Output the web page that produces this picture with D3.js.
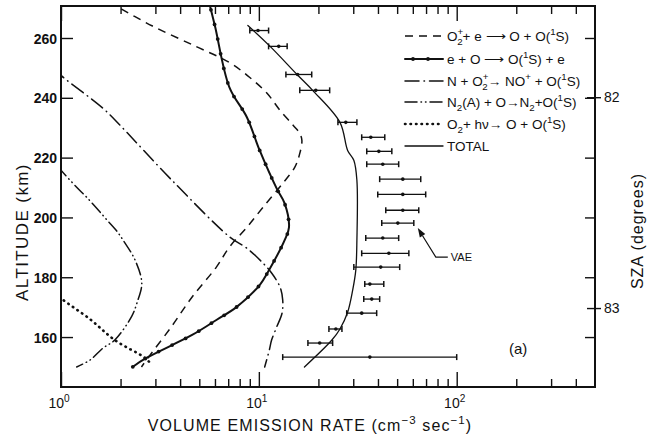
<!DOCTYPE html>
<html>
<head>
<meta charset="utf-8">
<script src="https://cdn.jsdelivr.net/npm/d3@7"></script>
<style>
  body { margin: 0; background: #fff; }
  svg { display: block; }
  text { font-family: "Liberation Sans", Arial, sans-serif; fill: #111; }
</style>
</head>
<body>
<svg id="chart" width="648" height="439"></svg>
<script>
// ---- Volume emission rate profiles of O(1S) production (cm^-3 s^-1) vs altitude (km)

// O2+ + e -> O + O(1S)   (dissociative recombination)
const dissAlt  = [272, 264, 257.2, 251.8, 246.8, 241.5, 235.8, 230.8, 228.1, 225.8, 221.4, 216.8, 211.4, 203.4, 196.7, 190.1, 183.4, 173.4, 163.3, 153, 150];
const dissRate = [1.75, 2.9, 4.8, 7.1, 9.0, 11.0, 12.8, 14.9, 16.1, 16.5, 16.1, 15.2, 13.2, 10.5, 8.7, 7.1, 6.1, 4.6, 3.6, 2.75, 2.55];

// e + O -> O(1S) + e   (electron impact)
const elecAlt  = [272, 264, 243.5, 233.5, 222.4, 209.7, 204.7, 196.7, 192.4, 181.7, 177.4, 170, 165.7, 160.7, 153, 150];
const elecRate = [5.6, 6.0, 7.1, 8.7, 10.1, 12.3, 13.5, 14.2, 13.5, 11.1, 10.1, 7.7, 6.1, 4.6, 2.7, 2.3];

// N + O2+ -> NO+ + O(1S)
const nAlt  = [250, 247.5, 236.5, 230.8, 212.4, 193.4, 189.7, 184.7, 181.4, 176.7, 172.4, 168, 163.3, 159, 155.7, 150];
const nRate = [0.92, 1.0, 1.63, 1.99, 3.64, 7.14, 8.7, 10.5, 11.6, 12.8, 13.2, 13.1, 12.3, 11.6, 11.3, 10.7];

// N2(A) + O -> N2 + O(1S)
const n2aAlt  = [217, 215.8, 210.1, 206.7, 199.1, 195.7, 192.4, 185.7, 178, 171.4, 167, 159, 156.3, 152.3, 150];
const n2aRate = [0.97, 1.0, 1.2, 1.35, 1.71, 1.9, 2.06, 2.37, 2.56, 2.42, 2.28, 1.87, 1.63, 1.4, 1.2];

// O2 + hv -> O + O(1S)
const photAlt  = [176, 173, 166, 159, 153, 151];
const photRate = [0.9, 1.0, 1.4, 1.87, 2.66, 2.85];

// Sum of all sources
const totalAlt  = [264.2, 257.2, 247.8, 242.5, 231.8, 222.4, 219.1, 212.4, 192.4, 182.4, 175.7, 168.3, 162.7, 159, 150];
const totalRate = [8.8, 11.4, 15.6, 18.7, 25.7, 28.1, 30.2, 31.3, 31.3, 30.9, 29.8, 28.1, 25.7, 23.4, 17.0];

// Measured volume emission rates (VAE) with their ranges
const vaeAlt  = [262.5, 257.2, 247.8, 242.5, 231.8, 226.8, 222.1, 217.8, 212.8, 207.7, 202.4, 198.1, 193.1, 188.0, 183.4, 177.7, 172.7, 168.0, 162.7, 158.0, 153.3];
const vaeRate = [9.9, 12.6, 15.7, 19.4, 27.5, 36.8, 40.4, 42.3, 53.4, 53.4, 53.4, 50.4, 42.3, 45.4, 41.3, 36.4, 37.2, 33.1, 24.5, 20.3, 36.4];
const vaeLow  = [9.0, 11.2, 13.7, 16.1, 25.1, 33.1, 35.1, 35.1, 40.8, 39.9, 43.8, 41.8, 34.7, 33.1, 30.2, 34.3, 33.9, 27.8, 22.6, 17.7, 13.2];
const vaeHigh = [11.2, 13.9, 18.5, 22.8, 31.3, 43.3, 47.0, 50.9, 65.8, 69.7, 64.3, 60.7, 50.9, 57.3, 51.5, 42.8, 40.8, 39.4, 26.3, 23.6, 100];
const vaeArrowIndex = 11;

// Axis ticks
const altTicks   = [160, 180, 200, 220, 240, 260];
const rateMajor  = [1, 10, 100];
const rateMinor  = [2, 3, 4, 5, 6, 7, 8, 9, 20, 30, 40, 50, 60, 70, 80, 90, 200, 300, 400];
const szaLabels  = [82, 83];
const szaAlt     = [240.2, 169.7];

// ---- layout
const W = 648, H = 439;
const mLeft = 61, mRight = 595, mTop = 6, mBottom = 387;

const svg = d3.select("#chart");
const x = d3.scaleLog().domain([1, 500]).range([mLeft, mRight]);
const y = d3.scaleLinear().domain([143.3, 270.7]).range([mBottom, mTop]);

svg.append("defs").append("clipPath").attr("id", "plotClip")
  .append("rect").attr("x", mLeft).attr("y", mTop)
  .attr("width", mRight - mLeft).attr("height", mBottom - mTop);

// rich text helper: parts = [text, kind, dx]
function rich(sel, parts, size) {
  let shift = 0;
  parts.forEach(p => {
    const [s, k, dx] = p;
    const target = k === "sup" ? -0.42 * size : k === "sub" ? 0.3 * size : 0;
    const ts = sel.append("tspan").attr("dy", target - shift).text(s);
    if (k === "sup" || k === "sub") ts.attr("font-size", size * 0.72);
    if (dx) ts.attr("dx", dx);
    shift = target;
  });
  if (shift !== 0) sel.append("tspan").attr("dy", -shift).text("");
}

// ---- axes
const axisStyle = g => {
  g.select(".domain").remove();
  g.selectAll(".tick line").attr("stroke", "#111").attr("stroke-width", 1.4);
};

// bottom: major + minor ticks pointing inward
svg.append("g").attr("transform", `translate(0,${mBottom})`)
  .call(d3.axisBottom(x).tickValues(rateMajor).tickSize(-15).tickFormat(""))
  .call(axisStyle);
svg.append("g").attr("transform", `translate(0,${mBottom})`)
  .call(d3.axisBottom(x).tickValues(rateMinor).tickSize(-8).tickFormat(""))
  .call(axisStyle);
// top
svg.append("g").attr("transform", `translate(0,${mTop})`)
  .call(d3.axisTop(x).tickValues(rateMajor).tickSize(-15).tickFormat(""))
  .call(axisStyle);
svg.append("g").attr("transform", `translate(0,${mTop})`)
  .call(d3.axisTop(x).tickValues(rateMinor).tickSize(-8).tickFormat(""))
  .call(axisStyle);

// x tick labels 10^n
rateMajor.forEach(v => {
  const t = svg.append("text")
    .attr("x", x(v) - 2).attr("y", 408)
    .attr("text-anchor", "middle")
    .attr("font-size", 14);
  rich(t, [["10"], [String(Math.round(Math.log10(v))), "sup"]], 14);
});

// left altitude axis
svg.append("g").attr("transform", `translate(${mLeft},0)`)
  .call(d3.axisLeft(y).tickValues(altTicks).tickSize(-12).tickPadding(4))
  .call(axisStyle)
  .call(g => g.selectAll(".tick text").attr("font-size", 14).attr("font-weight", "bold").attr("fill", "#111").attr("dy", "0.36em"));

// right side: inner ticks at altitude positions
svg.append("g").attr("transform", `translate(${mRight},0)`)
  .call(d3.axisRight(y).tickValues(altTicks).tickSize(-10).tickFormat(""))
  .call(axisStyle);

// right SZA ticks
svg.append("g").attr("transform", `translate(${mRight},0)`)
  .call(d3.axisRight(y).tickValues(szaAlt).tickSize(6).tickPadding(3)
    .tickFormat((d, i) => szaLabels[i]))
  .call(axisStyle)
  .call(g => g.selectAll(".tick line").attr("x1", -8))
  .call(g => g.selectAll(".tick text").attr("font-size", 14).attr("fill", "#111"));

// frame
svg.append("rect").attr("x", mLeft).attr("y", mTop)
  .attr("width", mRight - mLeft).attr("height", mBottom - mTop)
  .attr("fill", "none").attr("stroke", "#111").attr("stroke-width", 2);

// axis titles
const xt = svg.append("text").attr("x", 310).attr("y", 431)
  .attr("text-anchor", "middle").attr("font-size", 16).attr("letter-spacing", 1.1);
rich(xt, [["VOLUME EMISSION RATE  (cm"], ["\u22123", "sup"], [" sec"], ["\u22121", "sup"], [")"]], 16);

svg.append("text")
  .attr("transform", `translate(28,232) rotate(-90)`)
  .attr("text-anchor", "middle").attr("font-size", 17).attr("letter-spacing", 1.4)
  .text("ALTITUDE  (km)");

svg.append("text")
  .attr("transform", `translate(643,231) rotate(-90)`)
  .attr("text-anchor", "middle").attr("font-size", 16).attr("letter-spacing", 1)
  .text("SZA  (degrees)");

// ---- curves
const plot = svg.append("g").attr("clip-path", "url(#plotClip)");
const line = d3.line().x(d => x(d[1])).y(d => y(d[0])).curve(d3.curveCatmullRom.alpha(0.5));
const zipData = (a, r) => a.map((v, i) => [v, r[i]]);

const styles = {
  diss:  { dash: "8,6",            width: 1.5, cap: "butt" },
  elec:  { dash: null,             width: 2.0, cap: "round" },
  n:     { dash: "14,5,0.5,5",     width: 1.5, cap: "round" },
  n2a:   { dash: "12,4,0.5,4,0.5,4", width: 1.5, cap: "round" },
  phot:  { dash: "0.5,5",          width: 2.6, cap: "round" },
  total: { dash: null,             width: 1.3, cap: "round" }
};

function drawCurve(alt, rate, st) {
  const p = plot.append("path")
    .datum(zipData(alt, rate))
    .attr("d", line)
    .attr("fill", "none")
    .attr("stroke", "#111")
    .attr("stroke-width", st.width)
    .attr("stroke-linecap", st.cap);
  if (st.dash) p.attr("stroke-dasharray", st.dash);
  return p;
}

drawCurve(dissAlt, dissRate, styles.diss);
const elecPath = drawCurve(elecAlt, elecRate, styles.elec);
drawCurve(nAlt, nRate, styles.n);
drawCurve(n2aAlt, n2aRate, styles.n2a);
drawCurve(photAlt, photRate, styles.phot);
drawCurve(totalAlt, totalRate, styles.total);

// small dots along the electron-impact curve
(function () {
  const node = elecPath.node();
  const len = node.getTotalLength();
  const pts = d3.range(8, len, 15).map(l => node.getPointAtLength(l));
  plot.selectAll("circle.edot").data(pts).join("circle")
    .attr("class", "edot")
    .attr("cx", d => d.x).attr("cy", d => d.y).attr("r", 1.9).attr("fill", "#111");
})();

// ---- VAE measurements with horizontal range bars
const vae = vaeAlt.map((a, i) => ({ a, v: vaeRate[i], lo: vaeLow[i], hi: vaeHigh[i] }));
const eb = plot.selectAll("g.eb").data(vae).join("g").attr("class", "eb");
eb.append("line")
  .attr("x1", d => x(d.lo)).attr("x2", d => x(d.hi))
  .attr("y1", d => y(d.a)).attr("y2", d => y(d.a))
  .attr("stroke", "#111").attr("stroke-width", 1.3);
eb.append("line")
  .attr("x1", d => x(d.lo)).attr("x2", d => x(d.lo))
  .attr("y1", d => y(d.a) - 3).attr("y2", d => y(d.a) + 3)
  .attr("stroke", "#111").attr("stroke-width", 1.5);
eb.append("line")
  .attr("x1", d => x(d.hi)).attr("x2", d => x(d.hi))
  .attr("y1", d => y(d.a) - 3).attr("y2", d => y(d.a) + 3)
  .attr("stroke", "#111").attr("stroke-width", 1.5);
eb.append("circle")
  .attr("cx", d => x(d.v)).attr("cy", d => y(d.a)).attr("r", 1.8).attr("fill", "#111");

// VAE label with arrow
(function () {
  const d = vae[vaeArrowIndex];
  const tipX = x(d.hi) + 4, tipY = y(d.a) + 5;
  const tailX = tipX + 18, tailY = tipY + 29;
  const ang = Math.atan2(tipY - tailY, tipX - tailX);
  const hl = 9, hw = 3.2;
  const bx = tipX - hl * Math.cos(ang), by = tipY - hl * Math.sin(ang);
  svg.append("path")
    .attr("d", `M${tipX},${tipY} L${bx + hw * Math.sin(ang)},${by - hw * Math.cos(ang)} L${bx - hw * Math.sin(ang)},${by + hw * Math.cos(ang)} Z`)
    .attr("fill", "#111");
  svg.append("path")
    .attr("d", `M${bx},${by} L${tailX},${tailY} L${tailX + 12},${tailY}`)
    .attr("fill", "none").attr("stroke", "#111").attr("stroke-width", 1.2);
  svg.append("text").attr("x", tailX + 15).attr("y", tailY + 4)
    .attr("font-size", 11).text("VAE");
})();

// panel label
svg.append("text").attr("x", 509).attr("y", y(154.5)).attr("font-size", 15).text("(a)");

// ---- legend
const legendItems = [
  { st: styles.diss,  parts: [["O"], ["+", "sup"], ["2", "sub", -6], ["+ e \u27F6 O + O("], ["1", "sup"], ["S)"]] },
  { st: styles.elec,  parts: [["e + O \u27F6 O("], ["1", "sup"], ["S) + e"]], dots: true },
  { st: styles.n,     parts: [["N + O"], ["+", "sup"], ["2", "sub", -6], ["\u2192 NO"], ["+", "sup"], [" + O("], ["1", "sup"], ["S)"]] },
  { st: styles.n2a,   parts: [["N"], ["2", "sub"], ["(A) + O\u2192N"], ["2", "sub"], ["+O("], ["1", "sup"], ["S)"]] },
  { st: styles.phot,  parts: [["O"], ["2", "sub"], ["+ h\u03BD\u2192 O + O("], ["1", "sup"], ["S)"]] },
  { st: styles.total, parts: [["TOTAL"]] }
];
const legendY = [36, 59, 81, 102, 124, 146];
const lx0 = 405, lx1 = 443, tx = 447;
legendItems.forEach((it, i) => {
  const ly = legendY[i];
  const ln = svg.append("line").attr("x1", lx0).attr("x2", lx1).attr("y1", ly).attr("y2", ly)
    .attr("stroke", "#111").attr("stroke-width", it.st.width).attr("stroke-linecap", it.st.cap);
  if (it.st.dash) ln.attr("stroke-dasharray", it.st.dash);
  if (it.dots) {
    svg.selectAll(null).data(d3.range(lx0 + 8, lx1, 15)).join("circle")
      .attr("cx", d => d).attr("cy", ly).attr("r", 1.9).attr("fill", "#111");
  }
  const t = svg.append("text").attr("x", tx).attr("y", ly + 5).attr("font-size", 13.5);
  rich(t, it.parts, 13.5);
});
</script>
</body>
</html>
